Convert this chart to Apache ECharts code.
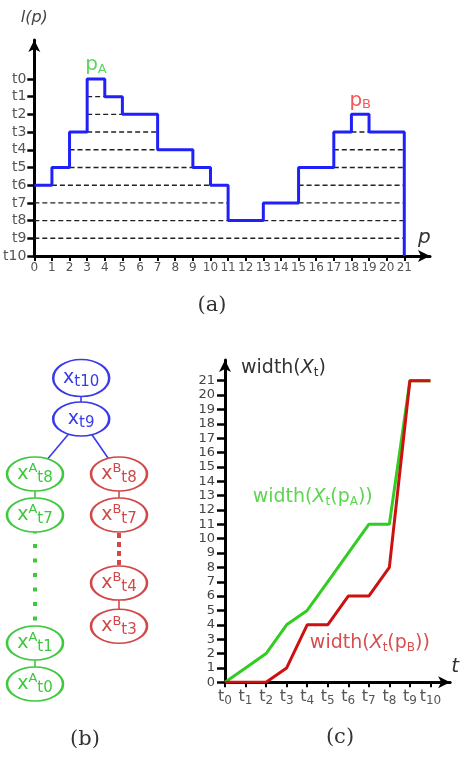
<!DOCTYPE html>
<html><head><meta charset="utf-8">
<script src="https://cdn.jsdelivr.net/npm/echarts@6/dist/echarts.min.js"></script>
<style>html,body{margin:0;padding:0;background:#fff}#c{width:460px;height:759px}</style>
</head><body><div id="c"></div>
<script>
// ---------- Panel (a): profile l(p) ----------
const profileP = [0,1,2,3,4,5,7,9,10,11,13,15,17,18,19,21];   // breakpoints along p
const profileLevel = [6,5,3,0,1,2,4,5,6,8,7,5,3,2,3];          // level index t_k on [p_i, p_i+1]
const levelLabels = ['t0','t1','t2','t3','t4','t5','t6','t7','t8','t9','t10'];
const pTicks = [0,1,2,3,4,5,6,7,8,9,10,11,12,13,14,15,16,17,18,19,20,21];
const peakNames = ['A','B'];
const peakP = [3.5, 18.5];
const peakLevel = [0, 2];

// ---------- Panel (c): width(X_t) ----------
const tSteps = [0,1,2,3,4,5,6,7,8,9,10];
const widthA = [0,1,2,4,5,7,9,11,11,21,21];
const widthB = [0,0,0,1,4,4,6,6,8,21,21];
const widthTicks = [0,1,2,3,4,5,6,7,8,9,10,11,12,13,14,15,16,17,18,19,20,21];
const labelA = [1.35, 12.9];
const labelB = [4.13, 2.74];

// ---------- Panel (b): tree of components ----------
const treeIds   = ['x10','x9','A8','A7','A1','A0','B8','B7','B4','B3'];
const treeSup   = ['','','A','A','A','A','B','B','B','B'];
const treeSub   = ['t10','t9','t8','t7','t1','t0','t8','t7','t4','t3'];
const treeGroup = ['R','R','A','A','A','A','B','B','B','B'];
const treeCol   = [0.55,0.55,0,0,0,0,1,1,1,1];
const treeRow   = [0,1,2.34,3.34,6.46,7.46,2.34,3.34,5.0,6.05];
const treeLinks = [['x10','x9','solid'],['x9','A8','solid'],['x9','B8','solid'],
                   ['A8','A7','solid'],['A7','A1','dotted'],['A1','A0','solid'],
                   ['B8','B7','solid'],['B7','B4','dotted'],['B4','B3','solid']];

const FONT = 'DejaVu Sans';
const BLUE = '#2020f8', GREEN = '#36c936';
const groupColor = {R:'#3a3ae8', A:'#3dc83d', B:'#d24848'};
const ELLIPSE = 'path://M0,50A50,50,0,1,1,100,50A50,50,0,1,1,0,50Z';

const series = [];
// dashed level lines where the profile lies above level k
for (let k = 1; k <= 9; k++) {
  let start = null;
  for (let i = 0; i <= profileLevel.length; i++) {
    const inside = i < profileLevel.length && profileLevel[i] < k;
    if (inside && start === null) start = profileP[i];
    if (!inside && start !== null) {
      series.push({type:'line', xAxisIndex:0, yAxisIndex:0, silent:true, symbol:'none', z:2,
        data:[[start,k],[profileP[i],k]],
        lineStyle:{color:'#222', width:1.4, type:[5,3]}});
      start = null;
    }
  }
}
const stepData = profileLevel.map((lv,i)=>[profileP[i], lv]);
stepData.push([profileP[profileP.length-1], profileLevel[profileLevel.length-1]]);
stepData.push([profileP[profileP.length-1], levelLabels.length-1]);
series.push({type:'line', xAxisIndex:0, yAxisIndex:0, step:'end', symbol:'none', z:5, silent:true,
  data: stepData, lineStyle:{color:BLUE, width:3}});
series.push({type:'scatter', xAxisIndex:0, yAxisIndex:0, symbolSize:0, z:6, silent:true,
  data: peakNames.map((n,i)=>({value:[peakP[i], peakLevel[i]], name:n,
    label:{show:true, position:'top', distance:3,
      formatter:'{p|p}{s|'+n+'}',
      rich:{p:{fontFamily:FONT, fontSize:20, color: i===0?GREEN:'#ee3030'},
            s:{fontFamily:FONT, fontSize:13, color: i===0?GREEN:'#ee3030', padding:[9,0,0,0]}}}}))});

// panel (c)
const lineC = (vals,color,z)=>({type:'line', xAxisIndex:1, yAxisIndex:1, symbol:'none', z:z, silent:true,
  data: vals.map((v,i)=>[tSteps[i], v]), lineStyle:{color, width:3}});
series.push(lineC(widthA, '#33cc22', 4));
series.push(lineC(widthB, '#cc1111', 5));
const annRich = (c)=>({n:{fontFamily:FONT,fontSize:19,color:c}, i:{fontFamily:FONT,fontSize:19,fontStyle:'italic',color:c},
  s:{fontFamily:FONT,fontSize:12,color:c,padding:[9,0,0,0]}});
series.push({type:'scatter', xAxisIndex:1, yAxisIndex:1, symbolSize:0, silent:true, z:6,
  data:[
    {value:labelA, label:{show:true, position:'right', distance:0, formatter:'{n|width(}{i|X}{s|t}{n|(p}{s|A}{n|))}', rich:annRich('#33cc22')}},
    {value:labelB, label:{show:true, position:'right', distance:0, formatter:'{n|width(}{i|X}{s|t}{n|(p}{s|B}{n|))}', rich:annRich('#cc2222')}}
  ]});

// panel (b) graph
series.push({type:'graph', coordinateSystem:'cartesian2d', xAxisIndex:2, yAxisIndex:2, silent:true, z:3,
  symbol: ELLIPSE, symbolSize:[56,34],
  data: treeIds.map((id,i)=>({name:id, value:[treeCol[i], treeRow[i]],
    symbolSize: i===0 ? [56,37] : [56,34],
    itemStyle:{color:'#fff', borderColor:groupColor[treeGroup[i]], borderWidth:2},
    label:{show:true, position:'inside',
      formatter: '{x|x}' + (treeSup[i] ? '{p|'+treeSup[i]+'}' : '') + '{b|'+treeSub[i]+'}',
      rich:{x:{fontFamily:FONT,fontSize:19,color:groupColor[treeGroup[i]]},
            p:{fontFamily:FONT,fontSize:13,color:groupColor[treeGroup[i]],padding:[0,0,10,0]},
            b:{fontFamily:FONT,fontSize:15,color:groupColor[treeGroup[i]],padding:[8,0,0,0]}}}})),
  links: treeLinks.map(([s,t,ty])=>{
    const c = groupColor[treeGroup[treeIds.indexOf(s)]];
    return {source:s, target:t, lineStyle: ty==='solid'
      ? {color:c, width:1.6, type:'solid', opacity:1}
      : {color:c, width:4, type: treeGroup[treeIds.indexOf(s)]==='A' ? [4,10.5] : [5,4], opacity:1}};
  }),
  lineStyle:{curveness:0}});

const axisLineStyle = {color:'#000', width:3};
const option = {
  animation:false,
  grid:[
    {left:32.5, top:40, width:397.5, height:216},
    {left:225, top:360, width:228, height:322.3},
    {left:35, top:378, width:84, height:306}
  ],
  xAxis:[
    {gridIndex:0, type:'value', position:'bottom', min:0, max:22.46, splitLine:{show:false},
     axisLine:{onZero:false, lineStyle:axisLineStyle, symbol:['none','arrow'], symbolSize:[9,12]},
     axisTick:{customValues:pTicks, length:5, lineStyle:{color:'#000', width:2}},
     axisLabel:{customValues:pTicks, fontFamily:FONT, fontSize:12, color:'#555', margin:6},
     name:'p', nameLocation:'end', nameGap:-12,
     nameTextStyle:{fontFamily:FONT, fontStyle:'italic', fontSize:20, color:'#333', align:'left', verticalAlign:'bottom', padding:[0,0,8,0]}},
    {gridIndex:1, type:'value', min:0, max:10.96, splitLine:{show:false},
     axisLine:{lineStyle:axisLineStyle, symbol:['none','arrow'], symbolSize:[9,12]},
     axisTick:{customValues:tSteps, length:5, lineStyle:{color:'#000', width:2}},
     axisLabel:{customValues:tSteps, margin:5, formatter:v=>'{t|t}{s|'+v+'}',
       rich:{t:{fontFamily:FONT,fontSize:16,color:'#555'}, s:{fontFamily:FONT,fontSize:12,color:'#555',padding:[8,0,0,0]}}},
     name:'t', nameLocation:'end', nameGap:1,
     nameTextStyle:{fontFamily:FONT, fontStyle:'italic', fontSize:20, color:'#333', align:'left', verticalAlign:'bottom', padding:[0,0,6,0]}},
    {gridIndex:2, type:'value', min:0, max:1, show:false}
  ],
  yAxis:[
    {gridIndex:0, type:'value', inverse:true, min:-2.2, max:10, splitLine:{show:false},
     axisLine:{lineStyle:axisLineStyle, symbol:['none','arrow'], symbolSize:[9,12]},
     axisTick:{customValues:[0,1,2,3,4,5,6,7,8,9,10], length:7, lineStyle:{color:'#000', width:2.5}},
     axisLabel:{customValues:[0,1,2,3,4,5,6,7,8,9,10], formatter:v=>levelLabels[v], fontFamily:FONT, fontSize:14, color:'#555', margin:8},
     name:'l(p)', nameLocation:'start', nameGap:14,
     nameTextStyle:{fontFamily:FONT, fontStyle:'italic', fontSize:16, color:'#444'}},
    {gridIndex:1, type:'value', min:0, max:22.44, splitLine:{show:false},
     axisLine:{lineStyle:axisLineStyle, symbol:['none','arrow'], symbolSize:[9,12]},
     axisTick:{customValues:widthTicks, length:8, lineStyle:{color:'#000', width:2.5}},
     axisLabel:{customValues:widthTicks, fontFamily:FONT, fontSize:13, color:'#444', margin:10},
     name:'{n|width(}{i|X}{s|t}{n|)}', nameLocation:'end', nameGap:-8,
     nameTextStyle:{align:'left', verticalAlign:'middle', padding:[0,0,0,16],
       rich:{n:{fontFamily:FONT,fontSize:19,color:'#333'}, i:{fontFamily:FONT,fontSize:19,fontStyle:'italic',color:'#333'},
             s:{fontFamily:FONT,fontSize:12,color:'#333',padding:[9,0,0,0]}}}},
    {gridIndex:2, type:'value', inverse:true, min:0, max:7.46, show:false}
  ],
  graphic:[
    {type:'text', x:212, y:306, style:{text:'(a)', align:'center', verticalAlign:'middle', font:'21px "DejaVu Serif"', fill:'#333'}},
    {type:'text', x:85, y:740, style:{text:'(b)', align:'center', verticalAlign:'middle', font:'21px "DejaVu Serif"', fill:'#333'}},
    {type:'text', x:340, y:738, style:{text:'(c)', align:'center', verticalAlign:'middle', font:'21px "DejaVu Serif"', fill:'#333'}}
  ],
  series: series
};
const chart = echarts.init(document.getElementById('c'));
chart.setOption(option);
</script></body></html>
